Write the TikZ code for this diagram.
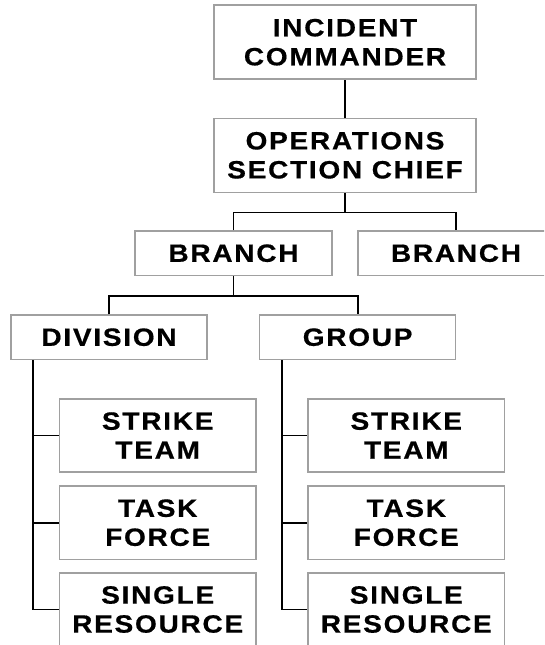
\documentclass[tikz,border=0pt]{standalone}
\usepackage{fontspec}
\usepackage{tikz}
\newfontfamily\orgfont[LetterSpace=7,FakeStretch=1.12,FakeBold=0.6]{Liberation Sans Bold}
\definecolor{boxgray}{HTML}{A0A0A0}

\tikzset{
  orgbox/.style={draw=boxgray, line width=1.6pt, fill=white, align=center,
    inner sep=0pt, minimum width=196pt,
    font=\orgfont\fontsize{25}{29}\selectfont},
  bigbox/.style={orgbox, minimum width=262pt, minimum height=74pt},
  midbox/.style={orgbox, minimum height=44.3pt},
  unitbox/.style={orgbox, minimum width=196.7pt, minimum height=73.5pt},
  conn/.style={line width=1.8pt, black}
}

\begin{document}
\begin{tikzpicture}[x=1pt, y=-1pt]
  \useasboundingbox (0,0) rectangle (544,645);
  \clip (0,0) rectangle (544,645);

  % Command and section
  \node[bigbox] (ic) at (345,42.2) {INCIDENT\\COMMANDER};
  \node[bigbox] (ops) at (345,155.3) {OPERATIONS\\SECTION CHIEF};

  % Branches
  \node[midbox, minimum width=197pt] (br1) at (233.5,253.2) {BRANCH};
  \node[midbox] (br2) at (456,253.2) {BRANCH};

  % Division and group
  \node[midbox] (div) at (109,337.2) {DIVISION};
  \node[midbox] (grp) at (357.6,337.2) {GROUP};

  % Resources under division
  \node[unitbox] (st1) at (157.7,435.5) {STRIKE\\TEAM};
  \node[unitbox] (tf1) at (157.7,522.7) {TASK\\FORCE};
  \node[unitbox] (sr1) at (157.7,609.5) {SINGLE\\RESOURCE};

  % Resources under group
  \node[unitbox] (st2) at (406.3,435.5) {STRIKE\\TEAM};
  \node[unitbox] (tf2) at (406.3,522.7) {TASK\\FORCE};
  \node[unitbox] (sr2) at (406.3,609.5) {SINGLE\\RESOURCE};

  % Connectors
  \draw[conn] (ic.south) -- (ops.north);
  \coordinate (opsbar) at ([yshift=-19.4pt]ops.south);
  \draw[conn] (ops.south) -- (opsbar);
  \draw[conn] (br1.north) |- (opsbar) -| (br2.north);

  \coordinate (brbar) at ([yshift=-19.7pt]br1.south);
  \draw[conn] (br1.south) -- (brbar);
  \draw[conn] (div.north) |- (brbar) -| (grp.north);

  \coordinate (divline) at ([xshift=22.7pt]div.south west);
  \coordinate (grpline) at ([xshift=23pt]grp.south west);
  \draw[conn] (divline) |- (sr1.west);
  \draw[conn] (st1.west) -- (st1.west -| divline);
  \draw[conn] (tf1.west) -- (tf1.west -| divline);
  \draw[conn] (grpline) |- (sr2.west);
  \draw[conn] (st2.west) -- (st2.west -| grpline);
  \draw[conn] (tf2.west) -- (tf2.west -| grpline);
\end{tikzpicture}
\end{document}
